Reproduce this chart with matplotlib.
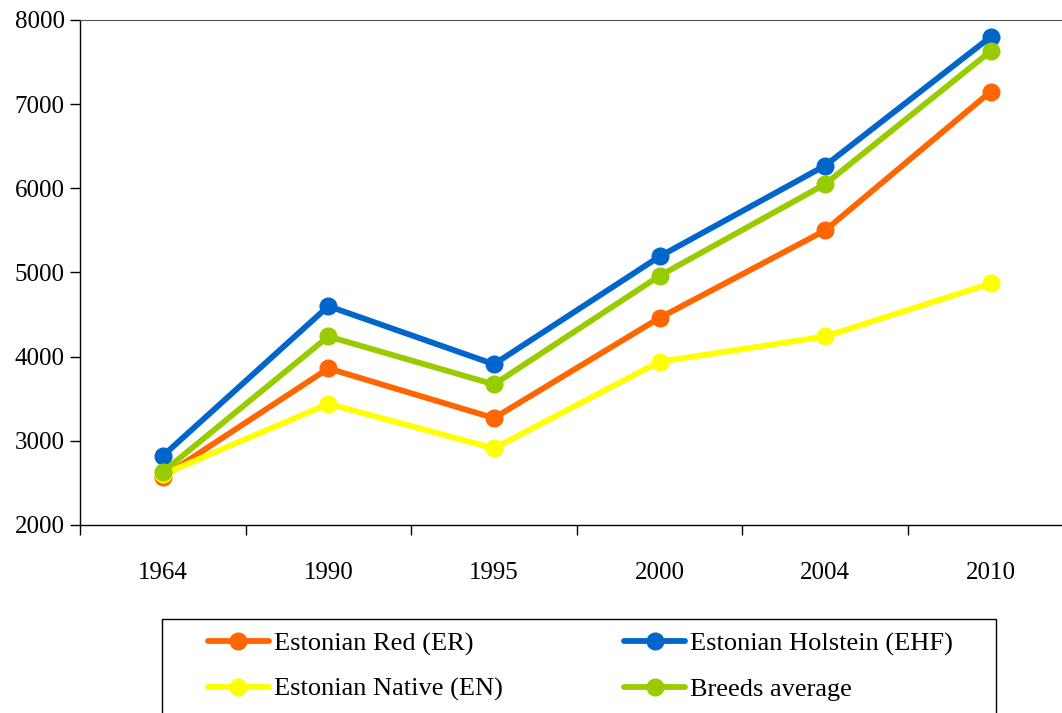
import matplotlib
matplotlib.use("Agg")
import matplotlib.pyplot as plt
from matplotlib.patches import Rectangle
import numpy as np

years = ["1964", "1990", "1995", "2000", "2004", "2010"]
er = [2570, 3860, 3270, 4460, 5500, 7150]
ehf = [2820, 4600, 3910, 5190, 6270, 7800]
en = [2600, 3440, 2910, 3940, 4240, 4870]
avg = [2630, 4240, 3670, 4960, 6050, 7630]

plt.rcParams['font.family'] = ['Liberation Serif', 'DejaVu Serif']

fig = plt.figure(figsize=(10.62, 7.13), dpi=100)
ax = fig.add_axes([0.0753, 0.2637, 0.9356, 0.7083])

x = np.arange(len(years))
series = [
    ("Estonian Red (ER)", er, "#FF6600"),
    ("Estonian Holstein (EHF)", ehf, "#0066CC"),
    ("Estonian Native (EN)", en, "#FFFF00"),
    ("Breeds average", avg, "#99CC00"),
]
lines = []
for name, vals, col in series:
    ln, = ax.plot(x, vals, color=col, lw=4.2, marker="o", ms=12, label=name,
                  solid_capstyle="round", clip_on=False)
    lines.append(ln)

ax.set_xlim(-0.5, len(years) - 0.5)
ax.set_ylim(2000, 8000)
ax.set_yticks(range(2000, 8001, 1000))
ax.set_xticks(np.arange(-0.5, len(years), 1.0))
ax.set_xticklabels([])
ax.set_xticks(x, minor=True)
ax.set_xticklabels(years, minor=True)
ax.tick_params(axis="x", which="minor", length=0, pad=27, labelsize=18)
ax.tick_params(axis="x", which="major", length=7, width=1, direction="out")
ax.tick_params(axis="y", length=7, width=1, direction="out", labelsize=18, pad=4)

ax.spines["right"].set_visible(False)
ax.spines["top"].set_color("#555555")
for s in ["left", "bottom"]:
    ax.spines[s].set_linewidth(1.0)

# legend box (bottom runs off the figure like the original)
fig.patches.append(Rectangle((162 / 1062, -0.2), (996 - 162) / 1062, 0.2 + (1 - 619 / 713),
                             transform=fig.transFigure, fill=False, edgecolor="black",
                             linewidth=1.0))
order = [0, 2, 1, 3]
leg = fig.legend([lines[i] for i in order], [series[i][0] for i in order],
                 loc="upper left", bbox_to_anchor=(208 / 1062, 1 - 632 / 713), ncol=2,
                 fontsize=19, frameon=False, handlelength=2.3, handletextpad=0.2,
                 columnspacing=4.6, borderaxespad=0, borderpad=0, labelspacing=0.82)

fig.savefig("out.png", dpi=100)
